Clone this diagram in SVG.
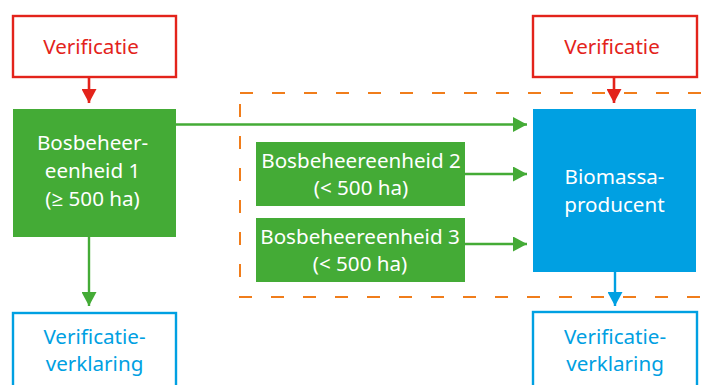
<svg xmlns="http://www.w3.org/2000/svg" width="705" height="385" viewBox="0 0 705 385">
  <defs>
    <style>
      text { font-family: "Noto Sans", "Open Sans", sans-serif; font-size: 20.6px; text-anchor: middle; }
      .red-box { fill: #fff; stroke: #e3231b; stroke-width: 2.4; }
      .red-txt { fill: #e3231b; }
      .blue-box { fill: #fff; stroke: #00a0e2; stroke-width: 2.4; }
      .blue-txt { fill: #00a0e2; }
      .green-fill { fill: #44ab36; }
      .blue-fill { fill: #00a0e2; }
      .white-txt { fill: #fff; }
      .scope { fill: none; stroke: #f07d1b; stroke-width: 2; stroke-dasharray: 13 19; }
      .edge-green { stroke: #44ab36; stroke-width: 2.4; fill: none; }
      .edge-red { stroke: #e3231b; stroke-width: 2.6; fill: none; }
      .edge-blue { stroke: #00a0e2; stroke-width: 2.4; fill: none; }
    </style>
    <marker id="head-green" viewBox="0 0 14 15" refX="14" refY="7.5" markerWidth="14" markerHeight="15" markerUnits="userSpaceOnUse" orient="auto">
      <path d="M0,0 L14,7.5 L0,15 Z" fill="#44ab36"/>
    </marker>
    <marker id="head-red" viewBox="0 0 14 15" refX="14" refY="7.5" markerWidth="14" markerHeight="15" markerUnits="userSpaceOnUse" orient="auto">
      <path d="M0,0 L14,7.5 L0,15 Z" fill="#e3231b"/>
    </marker>
    <marker id="head-blue" viewBox="0 0 14 15" refX="14" refY="7.5" markerWidth="14" markerHeight="15" markerUnits="userSpaceOnUse" orient="auto">
      <path d="M0,0 L14,7.5 L0,15 Z" fill="#00a0e2"/>
    </marker>
  </defs>

  <rect width="705" height="385" fill="#fff"/>

  <!-- dashed scope around the chain of custody -->
  <rect id="scope" class="scope" x="240" y="93" width="480" height="204"/>

  <g id="verificatie-left">
    <rect class="red-box" x="13" y="16" width="163" height="61"/>
    <text class="red-txt" x="91" y="54">Verificatie</text>
  </g>

  <g id="verificatie-right">
    <rect class="red-box" x="533" y="16" width="164" height="61"/>
    <text class="red-txt" x="612" y="54">Verificatie</text>
  </g>

  <g id="bbe1">
    <rect class="green-fill" x="13" y="109" width="163" height="128"/>
    <text class="white-txt" x="92.5" y="150">Bosbeheer-</text>
    <text class="white-txt" x="92.5" y="178">eenheid 1</text>
    <text class="white-txt" x="92.5" y="206">(≥ 500 ha)</text>
  </g>

  <g id="bbe2">
    <rect class="green-fill" x="256" y="142" width="209" height="64"/>
    <text class="white-txt" x="361" y="168">Bosbeheereenheid 2</text>
    <text class="white-txt" x="361" y="195">(&lt; 500 ha)</text>
  </g>

  <g id="bbe3">
    <rect class="green-fill" x="256" y="218" width="209" height="64"/>
    <text class="white-txt" x="360" y="244">Bosbeheereenheid 3</text>
    <text class="white-txt" x="360" y="271">(&lt; 500 ha)</text>
  </g>

  <g id="producent">
    <rect class="blue-fill" x="533" y="109" width="163" height="163"/>
    <text class="white-txt" x="614.5" y="184">Biomassa-</text>
    <text class="white-txt" x="614.5" y="212">producent</text>
  </g>

  <g id="verklaring-left">
    <rect class="blue-box" x="13" y="313" width="163" height="90"/>
    <text class="blue-txt" x="94.5" y="344">Verificatie-</text>
    <text class="blue-txt" x="94.5" y="371">verklaring</text>
  </g>

  <g id="verklaring-right">
    <rect class="blue-box" x="533" y="312" width="164" height="90"/>
    <text class="blue-txt" x="615" y="344">Verificatie-</text>
    <text class="blue-txt" x="615" y="371">verklaring</text>
  </g>

  <g id="connectors">
    <line class="edge-red" x1="89" y1="77" x2="89" y2="103" marker-end="url(#head-red)"/>
    <line class="edge-red" x1="614" y1="77" x2="614" y2="103" marker-end="url(#head-red)"/>
    <line class="edge-green" x1="176" y1="124.5" x2="527" y2="124.5" marker-end="url(#head-green)"/>
    <line class="edge-green" x1="465" y1="174" x2="527" y2="174" marker-end="url(#head-green)"/>
    <line class="edge-green" x1="465" y1="244" x2="527" y2="244" marker-end="url(#head-green)"/>
    <line class="edge-green" x1="89" y1="237" x2="89" y2="306" marker-end="url(#head-green)"/>
    <line class="edge-blue" x1="615" y1="272" x2="615" y2="306" marker-end="url(#head-blue)"/>
  </g>
</svg>
